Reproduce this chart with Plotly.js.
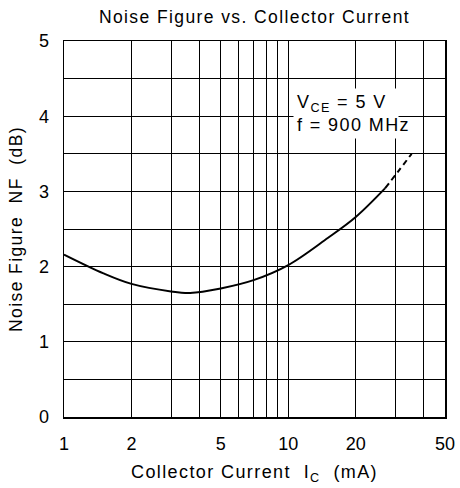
<!DOCTYPE html>
<html>
<head>
<meta charset="utf-8">
<script src="https://cdn.plot.ly/plotly-3.0.1.min.js"></script>
<style>
html,body{margin:0;padding:0;background:#fff;}
#chart{width:460px;height:488px;}
#chart .gtitle, #chart .xtitle, #chart .ytitle, #chart .annotation-text { letter-spacing: 1.4px; }
</style>
</head>
<body>
<div id="chart"></div>
<script>
// Collector current (mA) and noise figure (dB)
var currentSolid = [1, 1.5, 2, 3, 3.65, 5, 7, 10, 15, 20, 27];
var nfSolid      = [2.16, 1.91, 1.77, 1.67, 1.65, 1.71, 1.82, 2.02, 2.38, 2.66, 3.04];
var currentDash  = [27, 31, 35.5];
var nfDash       = [3.04, 3.27, 3.50];

var xGridVals = [1, 2, 3, 4, 5, 6, 7, 8, 9, 10, 20, 30, 40, 50];
var xGridText = ['1', '2', '', '', '5', '', '', '', '', '10', '20', '', '', '50'];
var yGridVals = [0, 0.5, 1, 1.5, 2, 2.5, 3, 3.5, 4, 4.5, 5];
var yGridText = ['0', '', '1', '', '2', '', '3', '', '4', '', '5'];

var FONT = 'Liberation Sans, Arial, sans-serif';

var traces = [
  {x: currentSolid, y: nfSolid, type: 'scatter', mode: 'lines',
   line: {color: '#000', width: 2, shape: 'spline', smoothing: 1}, hoverinfo: 'skip'},
  {x: currentDash, y: nfDash, type: 'scatter', mode: 'lines',
   line: {color: '#000', width: 2, dash: '6px,4px', shape: 'spline'}, hoverinfo: 'skip'}
];

var layout = {
  width: 460, height: 488,
  margin: {l: 64, r: 15, t: 41, b: 71},
  paper_bgcolor: '#fff', plot_bgcolor: '#fff',
  showlegend: false,
  font: {family: FONT, color: '#000', size: 18},
  title: {text: 'Noise Figure vs. Collector Current', xref: 'paper', x: 0.5, xanchor: 'center',
          yref: 'container', y: 0.966, yanchor: 'middle',
          font: {family: FONT, size: 17.5, color: '#000'}},
  xaxis: {
    type: 'log', range: [0, Math.log10(50)],
    tickmode: 'array', tickvals: xGridVals, ticktext: xGridText,
    showgrid: true, gridcolor: '#000', gridwidth: 1,
    showline: true, linecolor: '#000', linewidth: 1.5, mirror: true,
    ticks: '', ticklabelstandoff: 10, zeroline: false,
    tickfont: {family: FONT, size: 18, color: '#000'},
    title: {text: 'Collector Current  I<sub>C</sub>  (mA)', standoff: 12, font: {family: FONT, size: 18, color: '#000'}}
  },
  yaxis: {
    range: [0, 5],
    tickmode: 'array', tickvals: yGridVals, ticktext: yGridText,
    showgrid: true, gridcolor: '#000', gridwidth: 1,
    showline: true, linecolor: '#000', linewidth: 1.5, mirror: true,
    ticks: '', ticklabelstandoff: 10, zeroline: false,
    tickfont: {family: FONT, size: 18, color: '#000'},
    title: {text: 'Noise Figure  NF  (dB)', standoff: 12, font: {family: FONT, size: 17.5, color: '#000'}}
  },
  annotations: [{
    xref: 'x', yref: 'y', x: Math.log10(10.5), y: 4.03, xanchor: 'left', yanchor: 'middle',
    text: 'V<sub>CE</sub> = 5 V<br>f = 900 MHz', align: 'left', showarrow: false,
    bgcolor: '#fff', borderpad: 3,
    font: {family: FONT, size: 18, color: '#000'}
  }]
};

Plotly.newPlot('chart', traces, layout, {staticPlot: true, displayModeBar: false});
</script>
</body>
</html>
